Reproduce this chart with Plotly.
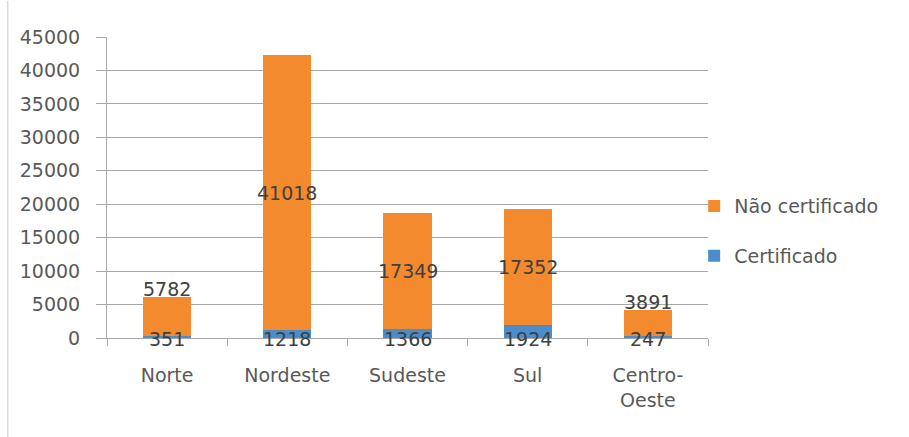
import plotly.graph_objects as go

# Regions and counts per status
regioes = ["Norte", "Nordeste", "Sudeste", "Sul", "Centro-<br>Oeste"]
certificado = [351, 1218, 1366, 1924, 247]
nao_certificado = [5782, 41018, 17349, 17352, 3891]
y_ticks = [0, 5000, 10000, 15000, 20000, 25000, 30000, 35000, 40000, 45000]

LARANJA = "#F38A2E"
AZUL = "#4A8DCB"
TEXTO = "#404040"
EIXO = "#595959"
FONTE = "DejaVu Sans"
TAM = 19

fig = go.Figure()
fig.add_trace(go.Bar(
    x=regioes, y=certificado, name="Certificado",
    legendgroup="cert", legendrank=2,
    marker=dict(color=AZUL, line=dict(width=0)),
))
fig.add_trace(go.Bar(
    x=regioes, y=nao_certificado, name="Não certificado",
    legendgroup="nao", legendrank=1,
    marker=dict(color=LARANJA, line=dict(width=0)),
))

# Value labels: bottom segment on the baseline, top segment centred
# when tall enough, otherwise just above the bar
anots = []
for reg, c, n in zip(regioes, certificado, nao_certificado):
    anots.append(dict(x=reg, y=0, text=str(c), showarrow=False,
                      yanchor="middle", yshift=-1,
                      font=dict(family=FONTE, size=TAM, color=TEXTO)))
    if n > 10000:
        anots.append(dict(x=reg, y=c + n / 2, text=str(n), showarrow=False,
                          yanchor="middle",
                          font=dict(family=FONTE, size=TAM, color=TEXTO)))
    else:
        anots.append(dict(x=reg, y=c + n, text=str(n), showarrow=False,
                          yanchor="bottom", yshift=-5,
                          font=dict(family=FONTE, size=TAM, color=TEXTO)))

fig.update_layout(
    width=909, height=437,
    margin=dict(l=107, r=201, t=37, b=99),
    paper_bgcolor="white", plot_bgcolor="white",
    barmode="stack", bargap=0.6,
    font=dict(family=FONTE, size=TAM, color=EIXO),
    showlegend=True,
    legend=dict(
        x=0.977, xanchor="left", y=0.355, yanchor="middle",
        traceorder="grouped", tracegroupgap=22,
        itemwidth=30, bgcolor="rgba(0,0,0,0)",
        font=dict(family=FONTE, size=TAM, color=EIXO),
    ),
    annotations=anots,
    shapes=[dict(type="line", xref="paper", yref="paper",
                 x0=-0.165, x1=-0.165, y0=-0.33, y1=1.12,
                 line=dict(color="#c8c8c8", width=1))],
)
fig.update_yaxes(
    range=[0, 45000], tickvals=y_ticks, ticktext=[str(v) for v in y_ticks],
    showgrid=True, gridcolor="#a8a8a8", gridwidth=1,
    showline=True, linecolor="#a8a8a8", linewidth=1,
    ticks="outside", ticklen=10, tickcolor="#a8a8a8",
    ticklabelstandoff=12, zeroline=False,
    tickfont=dict(family=FONTE, size=TAM, color=EIXO),
)
fig.update_xaxes(
    showline=True, linecolor="#a8a8a8", linewidth=1,
    ticks="outside", ticklen=7, tickcolor="#a8a8a8",
    tickson="boundaries", ticklabelstandoff=20,
    tickfont=dict(family=FONTE, size=TAM, color=EIXO),
)

fig.write_html("out.html")
